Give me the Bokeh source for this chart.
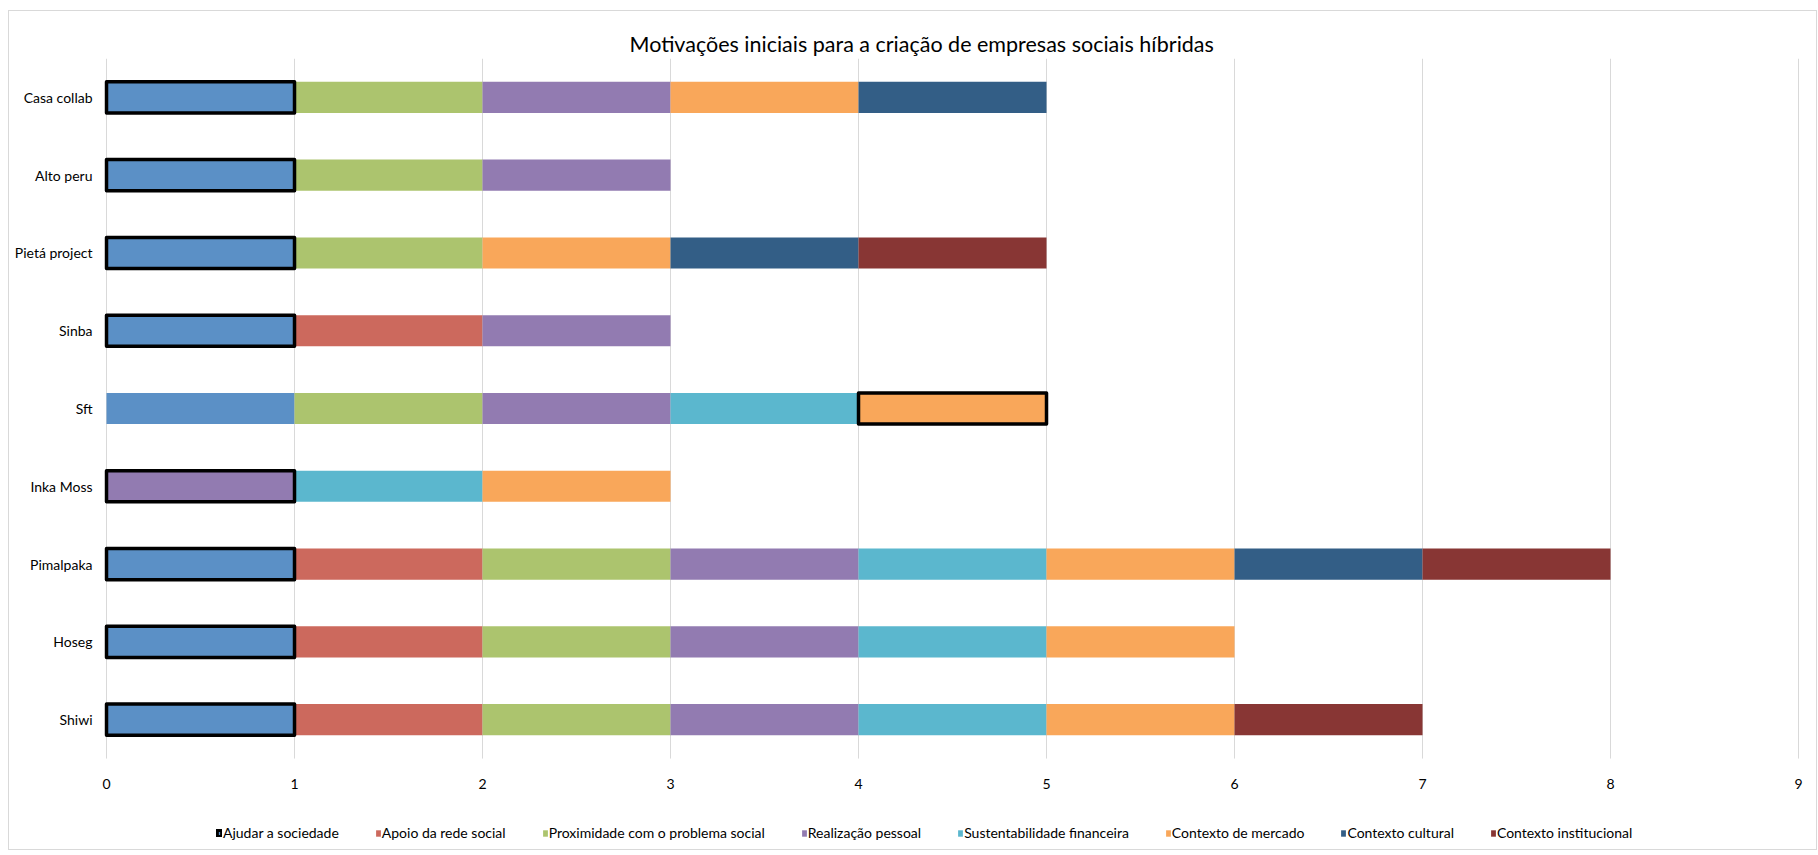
from bokeh.plotting import figure
from bokeh.models import (ColumnDataSource, Range1d, Legend, LegendItem,
                          Title, FixedTicker)
from bokeh.embed import file_html
from bokeh.resources import INLINE

titulo = "Motivações iniciais para a criação de empresas sociais híbridas"

empresas = ["Casa collab", "Alto peru", "Pietá project", "Sinba", "Sft",
            "Inka Moss", "Pimalpaka", "Hoseg", "Shiwi"]

motivacoes = ["Ajudar a sociedade", "Apoio da rede social",
              "Proximidade com o problema social", "Realização pessoal",
              "Sustentabilidade financeira", "Contexto de mercado",
              "Contexto cultural", "Contexto institucional"]

cores = ["#5B90C6", "#CC695D", "#ACC46E", "#927BB1",
         "#5BB7CE", "#F9A75A", "#335E86", "#883634"]

# motivation indices per company (each segment counts 1)
casa_collab = [0, 2, 3, 5, 6]
alto_peru = [0, 2, 3]
pieta_project = [0, 2, 5, 6, 7]
sinba = [0, 1, 3]
sft = [0, 2, 3, 4, 5]
inka_moss = [3, 4, 5]
pimalpaka = [0, 1, 2, 3, 4, 5, 6, 7]
hoseg = [0, 1, 2, 3, 4, 5]
shiwi = [0, 1, 2, 3, 4, 5, 7]

segmentos = [casa_collab, alto_peru, pieta_project, sinba, sft,
             inka_moss, pimalpaka, hoseg, shiwi]
valor_segmento = 1
# which segment (position) is highlighted with a black outline
destaque = [0, 0, 0, 0, 4, 0, 0, 0, 0]

x_ticks = [0, 1, 2, 3, 4, 5, 6, 7, 8, 9]

n = len(empresas)
pos = {emp: n - 1 - i for i, emp in enumerate(empresas)}

por_motiv = {m: dict(y=[], left=[], right=[]) for m in range(len(motivacoes))}
dest = dict(y=[], left=[], right=[], color=[])
for emp, segs, d in zip(empresas, segmentos, destaque):
    acc = 0
    for i, m in enumerate(segs):
        por_motiv[m]["y"].append(pos[emp])
        por_motiv[m]["left"].append(acc)
        por_motiv[m]["right"].append(acc + valor_segmento)
        if i == d:
            dest["y"].append(pos[emp])
            dest["left"].append(acc)
            dest["right"].append(acc + valor_segmento)
            dest["color"].append(cores[m])
        acc += valor_segmento

FONT = "Lato"
band_top = n - 0.5
band_bottom = -0.5

p = figure(width=1809, height=840, output_backend="svg", toolbar_location=None,
           y_range=Range1d(-1.695, band_top),
           x_range=Range1d(-0.032, 9.101),
           min_border_left=91, min_border_right=1, min_border_top=47, min_border_bottom=0)
p.margin = (10, 0, 0, 8)
p.styles = {"border": "1px solid #d9d9d9"}
p.outline_line_color = None
p.background_fill_color = "white"
p.border_fill_color = "white"

p.xgrid.visible = False
p.ygrid.visible = False

# vertical gridlines limited to the category band
p.segment(x0=x_ticks, x1=x_ticks, y0=[band_bottom] * len(x_ticks),
          y1=[band_top] * len(x_ticks), line_color="#d9d9d9", line_width=1)

p.xaxis.fixed_location = band_bottom
p.xaxis.ticker = FixedTicker(ticks=x_ticks)
p.xaxis.axis_line_color = None
p.xaxis.major_tick_line_color = None
p.xaxis.minor_tick_line_color = None
p.xaxis.major_tick_out = 0
p.xaxis.major_tick_in = 0
p.xaxis.major_label_standoff = 20
p.xaxis.major_label_text_font = FONT
p.xaxis.major_label_text_font_size = "14px"
p.xaxis.major_label_text_color = "#000000"

p.yaxis.ticker = FixedTicker(ticks=[pos[e] for e in empresas])
p.yaxis.major_label_overrides = {pos[e]: e for e in empresas}
p.yaxis.axis_line_color = None
p.yaxis.major_tick_line_color = None
p.yaxis.minor_tick_line_color = None
p.yaxis.major_tick_out = 0
p.yaxis.major_tick_in = 0
p.yaxis.major_label_standoff = 8
p.yaxis.major_label_text_font = FONT
p.yaxis.major_label_text_font_size = "14px"
p.yaxis.major_label_text_color = "#000000"

renderers = []
for m in range(len(motivacoes)):
    src = ColumnDataSource(por_motiv[m])
    r = p.hbar(y="y", left="left", right="right", height=0.4, source=src,
               fill_color=cores[m], line_color=None)
    renderers.append(r)

rd = p.hbar(y="y", left="left", right="right", height=0.4,
            source=ColumnDataSource(dest), fill_color="color",
            line_color="black", line_width=3.5, line_join="round")

items = []
for m, nome in enumerate(motivacoes):
    rs = [renderers[m]]
    if m == 0:
        rs = [renderers[m], rd]
    items.append(LegendItem(label=nome, renderers=rs))

legend = Legend(items=items, orientation="horizontal", location=(116, 10),
                glyph_width=6, glyph_height=8, label_standoff=1, spacing=36,
                padding=0, margin=0, border_line_color=None,
                background_fill_alpha=0,
                label_text_font=FONT, label_text_font_size="14px",
                label_text_color="#000000")
p.add_layout(legend, "center")

p.add_layout(Title(text=titulo, align="left", offset=529,
                   text_font=FONT, text_font_size="21.5px", text_font_style="normal",
                   text_color="#000000", standoff=4), "above")

open("out.html", "w").write(file_html(p, INLINE))
